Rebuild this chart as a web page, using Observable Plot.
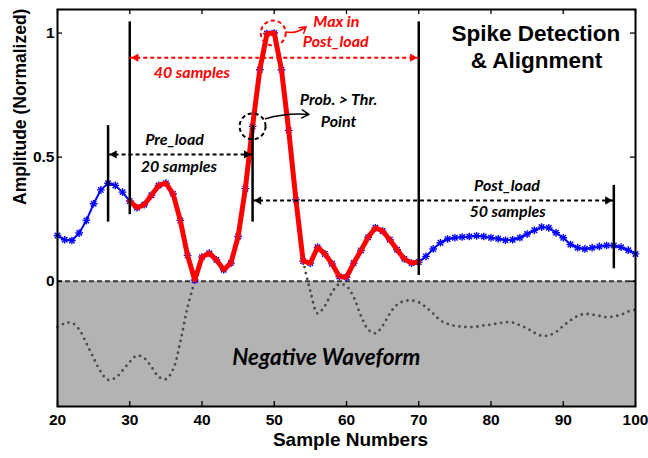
<!DOCTYPE html>
<html><head><meta charset="utf-8">
<script src="https://cdn.jsdelivr.net/npm/d3@7"></script>
<script src="https://cdn.jsdelivr.net/npm/@observablehq/plot@0.6"></script>
<style>html,body{margin:0;padding:0;background:#fff;overflow:hidden} svg{display:block}</style>
</head><body><div id="chart"></div>
<script>
// ---- data ----
const sampleNumbers = [20,21,22,23,24,25,26,27,28,29,30,31,32,33,34,35,36,37,38,39,40,41,42,43,44,45,46,47,48,49,50,51,52,53,54,55,56,57,58,59,60,61,62,63,64,65,66,67,68,69,70,71,72,73,74,75,76,77,78,79,80,81,82,83,84,85,86,87,88,89,90,91,92,93,94,95,96,97,98,99,100];
const amplitude = [0.184,0.167,0.164,0.194,0.245,0.312,0.368,0.395,0.386,0.359,
  0.323,0.296,0.308,0.346,0.386,0.395,0.352,0.245,0.104,0.005,
  0.097,0.113,0.086,0.046,0.073,0.180,0.373,0.624,0.852,0.998,
  1.000,0.852,0.608,0.328,0.081,0.073,0.137,0.110,0.070,0.019,
  0.016,0.073,0.124,0.177,0.215,0.202,0.167,0.127,0.090,0.073,
  0.077,0.100,0.130,0.155,0.170,0.175,0.178,0.180,0.183,0.180,
  0.175,0.171,0.165,0.167,0.175,0.190,0.205,0.218,0.215,0.195,
  0.175,0.148,0.135,0.130,0.135,0.140,0.144,0.144,0.137,0.125,
  0.110];
const negativeWaveform = [-0.185,-0.170,-0.168,-0.195,-0.250,-0.310,-0.365,-0.398,-0.390,-0.360,
  -0.325,-0.300,-0.310,-0.345,-0.385,-0.395,-0.355,-0.245,-0.105,0.000,
  null,null,null,null,null,null,null,null,null,null,
  null,null,null,null,0.080,-0.040,-0.130,-0.100,-0.045,-0.012,
  -0.020,-0.065,-0.140,-0.195,-0.210,-0.180,-0.130,-0.095,-0.080,-0.078,
  -0.085,-0.105,-0.130,-0.158,-0.172,-0.180,-0.183,-0.185,-0.183,-0.178,
  -0.175,-0.170,-0.165,-0.167,-0.178,-0.190,-0.208,-0.220,-0.218,-0.205,
  -0.180,-0.158,-0.140,-0.132,-0.135,-0.140,-0.145,-0.142,-0.135,-0.122,
  -0.115];
const xTicks = [20,30,40,50,60,70,80,90,100];
const yTicks = [0,0.5,1];
const yTickLabels = ["0","0.5","1"];
const alignedRange = [30, 70];       // red: 40 samples
const peakSample = 50;
const thresholdSample = 47;
// vertical markers
const markerX  = [27, 30, 47, 70, 97];
const markerY1 = [0.238, 0.268, 0.238, 0.023, 0.05];
const markerY2 = [0.627, 1.045, 0.628, 1.045, 0.386];
// dashed double arrows
const spanX1 = [30, 27, 47];
const spanX2 = [70, 47, 97];
const spanY  = [0.901, 0.511, 0.325];
const spanColor = ["#ff0000", "#000", "#000"];
// annotation texts
const noteText = ["40 samples","Max in","Post_load","Prob. > Thr.","Point","Pre_load","20 samples","Post_load","50 samples"];
const noteX = [38.6, 58.6, 58.5, 58.9, 58.9, 36.2, 36.8, 82.2, 82.3];
const noteY = [0.839, 1.044, 0.964, 0.729, 0.641, 0.570, 0.460, 0.386, 0.278];
const noteColor = ["#ff0000","#ff0000","#ff0000","#000","#000","#000","#000","#000","#000"];
const titleLines = ["Spike Detection", "& Alignment"];
const titleX = [86.2, 86.3];
const titleY = [0.998, 0.890];
// small pointer arrows
const redPointer = [{x1: 51.6, y1: 1.004, x2: 54.4, y2: 1.026}];
const blackPointer = [{x1: 48.8, y1: 0.655, x2: 54.8, y2: 0.672}];

const xDomain = [20, 100];
const yDomain = [-0.505, 1.095];

// ---- tables ----
const waveform = sampleNumbers.map((x, i) => ({x, y: amplitude[i]}));
const aligned = waveform.filter(d => d.x >= alignedRange[0] && d.x <= alignedRange[1]);
const negative = sampleNumbers.map((x, i) => ({x, y: negativeWaveform[i] == null ? NaN : negativeWaveform[i]}));
const markers = markerX.map((x, i) => ({x, y1: markerY1[i], y2: markerY2[i]}));
const spans = spanX1.map((x1, i) => ({x1, x2: spanX2[i], y: spanY[i], c: spanColor[i]}));
const notes = noteText.map((t, i) => ({t, x: noteX[i], y: noteY[i], c: noteColor[i]}));
const titles = titleLines.map((t, i) => ({t, x: titleX[i], y: titleY[i]}));
const peak = waveform.filter(d => d.x === peakSample);
const thr = waveform.filter(d => d.x === thresholdSample);

const W = 648, H = 458, mL = 57, mR = 13, mT = 9, mB = 52;
const fw = W - mL - mR, fh = H - mT - mB, tick = 5;
const headR = 4, headOff = 6.2;
const note = {fontFamily: "Lato, 'Open Sans', sans-serif", fontWeight: "bold", fontStyle: "italic"};
const sans = "'Liberation Sans', Arial, sans-serif";

const chart = Plot.plot({
  width: W, height: H,
  marginLeft: mL, marginRight: mR, marginTop: mT, marginBottom: mB,
  style: {background: "#fff", fontFamily: sans, overflow: "visible"},
  x: {domain: xDomain},
  y: {domain: yDomain},
  marks: [
    Plot.areaY(waveform, {x: "x", y1: yDomain[0], y2: 0, fill: "#b3b3b3"}),
    Plot.ruleY([0], {stroke: "#3a3a3a", strokeWidth: 2, strokeDasharray: "5,3"}),
    Plot.line(negative, {x: "x", y: "y", curve: "catmull-rom", stroke: "#4a4a4a", strokeWidth: 2.8, strokeDasharray: "0,6", strokeLinecap: "round"}),
    Plot.line(waveform, {x: "x", y: "y", stroke: "#0000ff", strokeWidth: 2}),
    Plot.dot(waveform, {x: "x", y: "y", symbol: "plus", r: 2.6, stroke: "#0000ff", strokeWidth: 1.4}),
    Plot.dot(waveform, {x: "x", y: "y", symbol: "times", r: 2.6, stroke: "#0000ff", strokeWidth: 1.4}),
    Plot.line(aligned, {x: "x", y: "y", stroke: "#ff0000", strokeWidth: 5, strokeLinejoin: "round"}),
    Plot.ruleX(markers, {x: "x", y1: "y1", y2: "y2", stroke: "#000", strokeWidth: 2.5}),
    Plot.ruleY(spans, {y: "y", x1: "x1", x2: "x2", stroke: "c", strokeWidth: 2, strokeDasharray: "4,3"}),
    Plot.dot(spans, {x: "x1", y: "y", symbol: "triangle2", r: headR, fill: "c", rotate: -90, dx: headOff}),
    Plot.dot(spans, {x: "x2", y: "y", symbol: "triangle2", r: headR, fill: "c", rotate: 90, dx: -headOff}),
    Plot.dot(peak, {x: "x", y: "y", r: 12.5, dx: -1, stroke: "#ff0000", strokeWidth: 2, strokeDasharray: "4,3", fill: "none"}),
    Plot.dot(thr, {x: "x", y: "y", r: 13, stroke: "#000", strokeWidth: 2, strokeDasharray: "4,3", fill: "none"}),
    Plot.arrow(redPointer, {x1: "x1", y1: "y1", x2: "x2", y2: "y2", bend: -25, stroke: "#ff0000", strokeWidth: 1.5, headLength: 8}),
    Plot.arrow(blackPointer, {x1: "x1", y1: "y1", x2: "x2", y2: "y2", bend: 10, stroke: "#000", strokeWidth: 1.5, headLength: 8}),
    Plot.text(notes, {x: "x", y: "y", text: "t", fill: "c", fontSize: 16, ...note}),
    Plot.text(["Negative Waveform"], {x: 57.2, y: -0.309, text: d => d, fill: "#000", fontSize: 22.5, ...note}),
    Plot.text(titles, {x: "x", y: "y", text: "t", fill: "#000", fontSize: 22.5, fontWeight: "bold", fontFamily: sans}),
    Plot.frame({stroke: "#000", strokeWidth: 2}),
    Plot.ruleX(xTicks, {x: d => d, insetTop: fh - tick, stroke: "#000", strokeWidth: 1.3}),
    Plot.ruleX(xTicks, {x: d => d, insetBottom: fh - tick, stroke: "#000", strokeWidth: 1.3}),
    Plot.ruleY(yTicks, {y: d => d, insetRight: fw - tick, stroke: "#000", strokeWidth: 1.3}),
    Plot.ruleY(yTicks, {y: d => d, insetLeft: fw - tick, stroke: "#000", strokeWidth: 1.3}),
    Plot.axisX({ticks: xTicks, tickSize: 0, tickPadding: 7, label: null, fontSize: 15.5, fontWeight: "bold", fontFamily: sans, fill: "#000"}),
    Plot.axisY({ticks: yTicks, tickSize: 0, tickPadding: 3, label: null, tickFormat: (d) => yTickLabels[yTicks.indexOf(d)], fontSize: 15.5, fontWeight: "bold", fontFamily: sans, fill: "#000"}),
    Plot.text(["Sample Numbers"], {frameAnchor: "bottom", text: d => d, dx: 4, dy: 39, fontSize: 19, fontWeight: "bold", fontFamily: sans, fill: "#000"}),
    Plot.text(["Amplitude (Normalized)"], {frameAnchor: "left", text: d => d, rotate: -90, dx: -37, dy: -3, fontSize: 17.5, fontWeight: "bold", fontFamily: sans, fill: "#000"})
  ]
});
document.getElementById("chart").appendChild(chart);
</script>
</body></html>
